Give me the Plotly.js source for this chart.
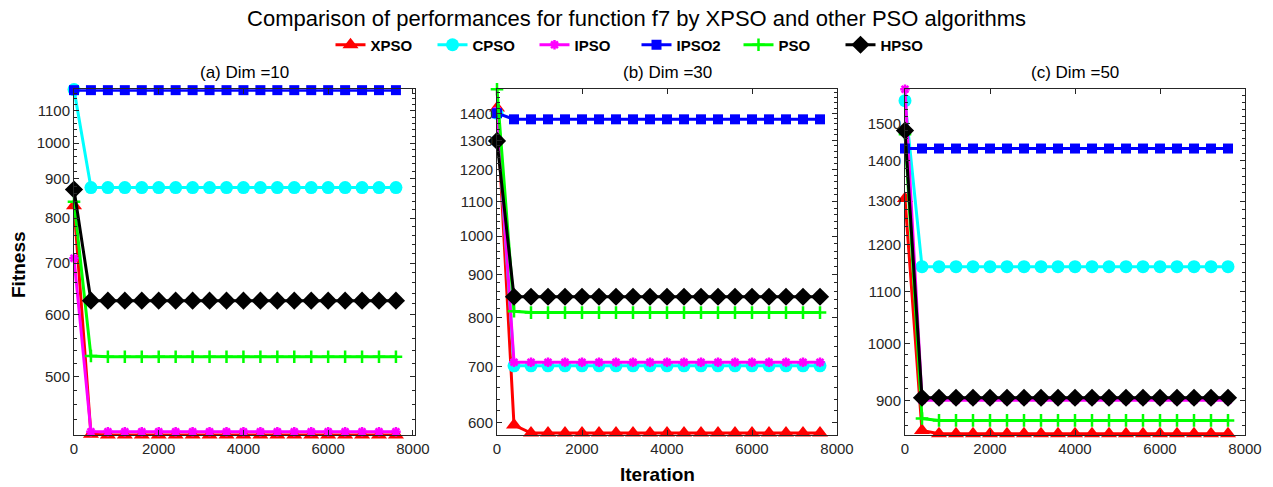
<!DOCTYPE html>
<html>
<head>
<meta charset="utf-8">
<script src="https://cdn.plot.ly/plotly-3.0.1.min.js"></script>
<style>html,body{margin:0;padding:0;background:#fff;}#chart{width:1273px;height:487px;}</style>
</head>
<body>
<div id="chart"></div>
<script>
var iterations = [0,400,800,1200,1600,2000,2400,2800,3200,3600,4000,4400,4800,5200,5600,6000,6400,6800,7200,7600];
var seriesNames = ["XPSO","CPSO","IPSO","IPSO2","PSO","HPSO"];
var panelTitles = ["(a) Dim =10","(b) Dim =30","(c) Dim =50"];
var xTickVals = [0,2000,4000,6000,8000];
var yTickVals_a = [500,600,700,800,900,1000,1100];
var yTickVals_b = [600,700,800,900,1000,1100,1200,1300,1400];
var yTickVals_c = [900,1000,1100,1200,1300,1400,1500];

// Dim = 10
var XPSO_a  = [830,421,420,420,420,420,420,420,420,420,420,420,420,420,420,420,420,420,420,420];
var CPSO_a  = [1172,876,876,876,876,876,876,876,876,876,876,876,876,876,876,876,876,876,876,876];
var IPSO_a  = [710,424,424,424,424,424,424,424,424,424,424,424,424,424,424,424,424,424,424,424];
var IPSO2_a = [1170,1170,1170,1170,1170,1170,1170,1170,1170,1170,1170,1170,1170,1170,1170,1170,1170,1170,1170,1170];
var PSO_a   = [840,531,530,530,530,530,530,530,530,530,530,530,530,530,530,530,530,530,530,530];
var HPSO_a  = [871,626,626,626,626,626,626,626,626,626,626,626,626,626,626,626,626,626,626,626];
// Dim = 30
var XPSO_b  = [1420,596,583,583,583,583,583,583,583,583,583,583,583,583,583,583,583,583,583,583];
var CPSO_b  = [1400,701,701,701,701,701,701,701,701,701,701,701,701,701,701,701,701,701,701,701];
var IPSO_b  = [1410,708,708,708,708,708,708,708,708,708,708,708,708,708,708,708,708,708,708,708];
var IPSO2_b = [1400,1377,1377,1377,1377,1377,1377,1377,1377,1377,1377,1377,1377,1377,1377,1377,1377,1377,1377,1377];
var PSO_b   = [1495,814,811,811,811,811,811,811,811,811,811,811,811,811,811,811,811,811,811,811];
var HPSO_b  = [1298,847,847,847,847,847,847,847,847,847,847,847,847,847,847,847,847,847,847,847];
// Dim = 50
var XPSO_c  = [1306,852,847,847,847,847,847,847,847,847,847,847,847,847,847,847,847,847,847,847];
var CPSO_c  = [1564,1152,1152,1152,1152,1152,1152,1152,1152,1152,1152,1152,1152,1152,1152,1152,1152,1152,1152,1152];
var IPSO_c  = [1597,901,901,901,901,901,901,901,901,901,901,901,901,901,901,901,901,901,901,901];
var IPSO2_c = [1432,1432,1432,1432,1432,1432,1432,1432,1432,1432,1432,1432,1432,1432,1432,1432,1432,1432,1432,1432];
var PSO_c   = [1470,871,868,868,868,868,868,868,868,868,868,868,868,868,868,868,868,868,868,868];
var HPSO_c  = [1480,905,905,905,905,905,905,905,905,905,905,905,905,905,905,905,905,905,905,905];

var panels = [
  [XPSO_a, CPSO_a, IPSO_a, IPSO2_a, PSO_a, HPSO_a],
  [XPSO_b, CPSO_b, IPSO_b, IPSO2_b, PSO_b, HPSO_b],
  [XPSO_c, CPSO_c, IPSO_c, IPSO2_c, PSO_c, HPSO_c]
];

var styles = [
  {color:"#ff0000", symbol:"triangle-up", size:14, lw:0},
  {color:"#00ffff", symbol:"circle", size:13, lw:0},
  {color:"#ff00ff", symbol:"asterisk-open", size:8, lw:2.5},
  {color:"#0000ff", symbol:"square", size:10, lw:0},
  {color:"#00ff00", symbol:"cross-thin-open", size:9, lw:2.5},
  {color:"#000000", symbol:"diamond", size:14, lw:0}
];

var traces = [];
for (var p = 0; p < 3; p++) {
  for (var s = 0; s < 6; s++) {
    var st = styles[s];
    traces.push({
      x: iterations,
      y: panels[p][s],
      type: "scatter",
      mode: "lines+markers",
      name: seriesNames[s],
      legendgroup: seriesNames[s],
      showlegend: p === 0,
      xaxis: p === 0 ? "x" : "x" + (p + 1),
      yaxis: p === 0 ? "y" : "y" + (p + 1),
      cliponaxis: false,
      line: {color: st.color, width: 3},
      marker: {color: st.color, symbol: st.symbol, size: st.size,
               line: {color: st.color, width: st.lw}}
    });
  }
}

var W = 1273, H = 487;
var xDomains = [[74/W, 415/W], [497/W, 837/W], [905/W, 1245/W]];
var yDomain = [1 - 435/H, 1 - 89.3/H];
var yRanges = [[420, 1173], [580, 1495], [845, 1597]];
var yTicks = [yTickVals_a, yTickVals_b, yTickVals_c];

function minorVals(r) {
  var out = [];
  for (var v = Math.ceil(r[0] / 20) * 20; v <= r[1]; v += 20) out.push(v);
  return out;
}

var FF = "Liberation Sans, Arial, sans-serif";
var tickFont = {family: FF, size: 15, color: "#262626"};
var layout = {
  width: W, height: H,
  margin: {l: 0, r: 0, t: 0, b: 0},
  paper_bgcolor: "#ffffff",
  plot_bgcolor: "#ffffff",
  showlegend: true,
  title: {text: "Comparison of performances for function f7 by XPSO and other PSO algorithms",
          font: {family: FF, size: 22, color: "#000"},
          x: 0.5, xanchor: "center", y: 1 - 18/H, yanchor: "middle"},
  legend: {orientation: "h", x: 0.5, xanchor: "center", y: 1 - 45/H, yanchor: "middle",
           font: {family: FF, size: 15, color: "#000", weight: "bold"},
           itemwidth: 30, entrywidth: 57, entrywidthmode: "pixels",
           tracegroupgap: 0, bgcolor: "rgba(0,0,0,0)"},
  annotations: [],
  hovermode: false
};

for (var i = 0; i < 3; i++) {
  var xa = i === 0 ? "xaxis" : "xaxis" + (i + 1);
  var ya = i === 0 ? "yaxis" : "yaxis" + (i + 1);
  layout[xa] = {
    domain: xDomains[i], range: [0, i === 0 ? 8050 : 8000], type: "linear",
    anchor: i === 0 ? "y" : "y" + (i + 1),
    tickmode: "array", tickvals: xTickVals, ticktext: xTickVals.map(String),
    ticks: "inside", ticklen: 5, tickcolor: "#262626", tickwidth: 1,
    showline: true, linecolor: "#262626", linewidth: 1, mirror: "ticks",
    showgrid: false, zeroline: false, tickfont: tickFont, automargin: false
  };
  layout[ya] = {
    domain: yDomain, type: "log",
    range: [Math.log10(yRanges[i][0]), Math.log10(yRanges[i][1])],
    anchor: i === 0 ? "x" : "x" + (i + 1),
    tickmode: "array", tickvals: yTicks[i], ticktext: yTicks[i].map(String),
    ticks: "inside", ticklen: 5, tickcolor: "#262626", tickwidth: 1,
    minor: {tickmode: "array", tickvals: minorVals(yRanges[i]), ticks: "inside", ticklen: 3, tickcolor: "#262626", showgrid: false},
    showline: true, linecolor: "#262626", linewidth: 1, mirror: "ticks",
    showgrid: false, zeroline: false, tickfont: tickFont, automargin: false
  };
  layout.annotations.push({
    text: panelTitles[i], xref: "paper", yref: "paper",
    x: (xDomains[i][0] + xDomains[i][1]) / 2, y: 1 - 73/H,
    xanchor: "center", yanchor: "middle", showarrow: false,
    font: {family: FF, size: 17, color: "#000"}
  });
}
layout.annotations.push({
  text: "<b>Fitness</b>", xref: "paper", yref: "paper", x: 18/W, y: 1 - 265/H,
  xanchor: "center", yanchor: "middle", textangle: -90, showarrow: false,
  font: {family: FF, size: 19, color: "#000"}
});
layout.annotations.push({
  text: "<b>Iteration</b>", xref: "paper", yref: "paper", x: 657/W, y: 1 - 474/H,
  xanchor: "center", yanchor: "middle", showarrow: false,
  font: {family: FF, size: 19, color: "#000"}
});

Plotly.newPlot("chart", traces, layout, {displayModeBar: false, staticPlot: true});
</script>
</body>
</html>
